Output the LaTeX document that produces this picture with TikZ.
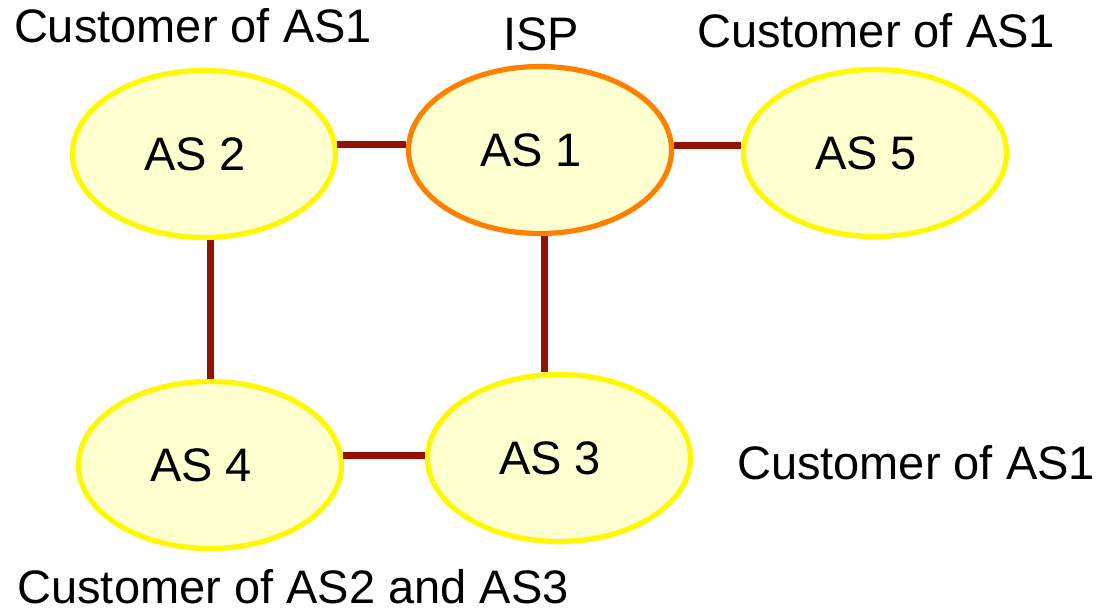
\documentclass[tikz,border=0pt]{standalone}
\usepackage{fontspec}
\setmainfont{Liberation Sans}
\usetikzlibrary{shapes.geometric}

\definecolor{asfill}{HTML}{FFFFD0}
\definecolor{asline}{HTML}{FFF800}
\definecolor{ispline}{HTML}{FF7F00}
\definecolor{link}{HTML}{941100}

\tikzset{
  asnode/.style={ellipse, draw=asline, fill=asfill, line width=2.6pt,
    minimum width=131.5pt, minimum height=83.5pt, inner sep=0pt,
    font=\fontsize{23.5}{28}\selectfont, execute at end node=\hspace*{9pt}},
  isp/.style={asnode, draw=ispline},
  lbl/.style={anchor=base, inner sep=0pt, font=\fontsize{23.5}{28}\selectfont},
  link/.style={draw=link, line width=3.5pt}
}

\begin{document}
\begin{tikzpicture}[x=0.5pt, y=-0.5pt]
  \useasboundingbox (0,0) rectangle (1099,610);
  % autonomous systems
  \node[isp]    (as1) at (540,150) {AS 1};
  \node[asnode] (as2) at (204,154) {AS 2};
  \node[asnode] (as5) at (875,153) {AS 5};
  \node[asnode] (as4) at (210,465) {AS 4};
  \node[asnode] (as3) at (559,458) {AS 3};
  % relationships
  \node[lbl] (c2) at (193,43) {Customer of AS1};
  \node[lbl] (isp1) at (541,51) {ISP};
  \node[lbl] (c5) at (876,48) {Customer of AS1};
  \node[lbl] (c3) at (916,479) {Customer of AS1};
  \node[lbl] (c4) at (293,603) {Customer of AS2 and AS3};
  % links
  \draw[link] (as2.4) -- (as2.4 -| as1.west);
  \draw[link] (as1.2) -- (as1.2 -| as5.west);
  \draw[link] (as2.south -| as4.north) -- (as4.north);
  \draw[link] ([xshift=2pt]as1.south) -- ([xshift=2pt]as1.south |- as3.north);
  \draw[link] (as4.4) -- (as4.4 -| as3.west);
\end{tikzpicture}
\end{document}
